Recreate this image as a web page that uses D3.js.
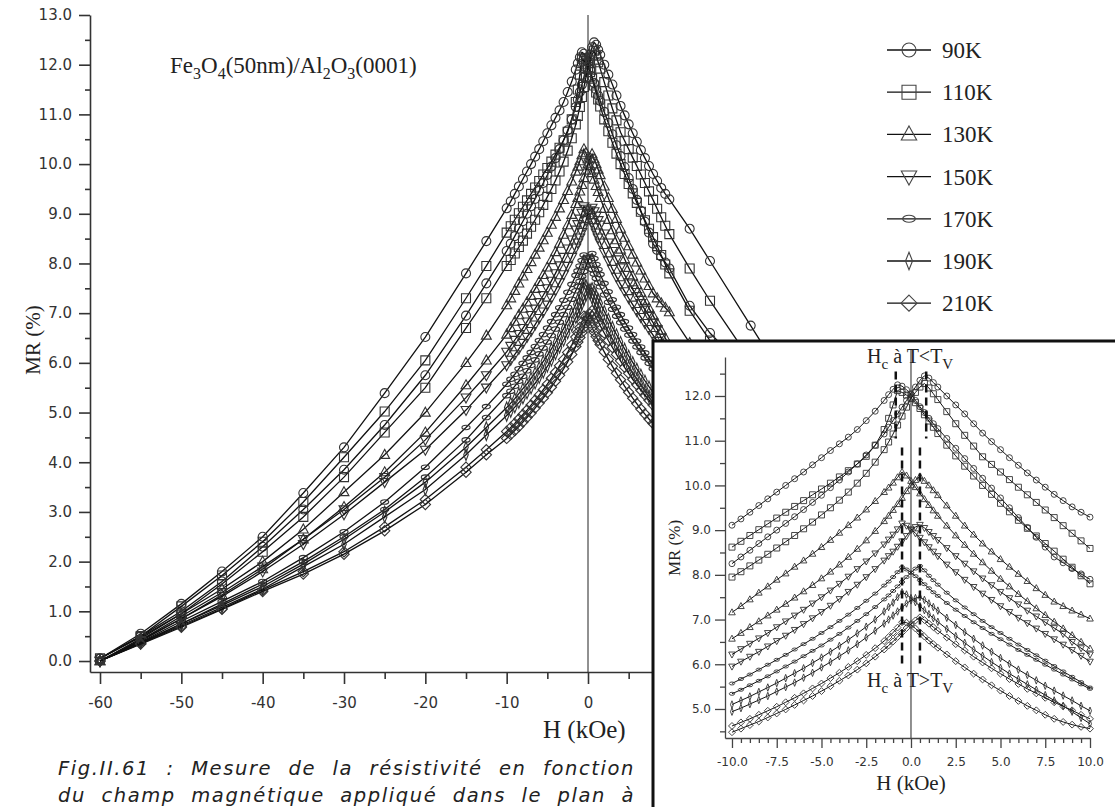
<!DOCTYPE html>
<html><head><meta charset="utf-8">
<script src="https://cdn.jsdelivr.net/npm/d3@7"></script>
<style>body{margin:0;background:#fff}svg{display:block}</style>
</head><body><svg id="c" width="1115" height="807"></svg>
<script>
// ---------- DATA ----------
const fieldKOe = [-60,-55,-50,-45,-40,-35,-30,-25,-20,-15,-12.5,
 -10,-9.5,-9,-8.5,-8,-7.5,-7,-6.5,-6,-5.5,-5,-4.5,-4,-3.5,-3,-2.5,-2,-1.5,
 -1.25,-1,-0.75,-0.5,-0.25,0,0.25,0.5,0.75,1,1.25,
 1.5,2,2.5,3,3.5,4,4.5,5,5.5,6,6.5,7,7.5,8,8.5,9,9.5,10,
 12.5,15,20,25,30,35,40,45,50,55,60];

// branch A: sweep with peak at -Hc ; branch B: peak at +Hc
const mr90A = [0.05,0.55,1.15,1.8,2.5,3.38,4.3,5.39,6.52,7.8,8.45,
 9.11,9.25,9.4,9.55,9.7,9.85,10.0,10.15,10.3,10.46,10.62,10.78,10.93,11.08,11.25,11.45,11.66,11.9,
 12.03,12.15,12.25,12.22,12.14,12.04,11.9,11.76,11.63,11.5,11.38,
 11.27,11.05,10.83,10.6,10.38,10.16,9.94,9.72,9.5,9.28,9.06,8.84,8.62,8.4,8.27,8.14,8.02,7.9,
 7.15,6.6,5.75,4.75,3.85,3.05,2.3,1.6,1.0,0.5,0.05];
const mr90B = [0.05,0.5,1.0,1.6,2.3,3.05,3.85,4.75,5.75,6.95,7.6,
 8.25,8.4,8.55,8.7,8.85,9.0,9.15,9.3,9.46,9.62,9.78,9.95,10.12,10.3,10.48,10.68,10.9,11.15,
 11.3,11.45,11.6,11.75,11.9,12.05,12.2,12.35,12.45,12.4,12.3,
 12.2,12.0,11.8,11.6,11.38,11.17,10.98,10.8,10.62,10.45,10.28,10.12,9.96,9.8,9.66,9.52,9.4,9.29,
 8.7,8.05,6.75,5.45,4.35,3.4,2.5,1.8,1.15,0.55,0.05];
const mr110A = [0.05,0.5,1.1,1.72,2.4,3.2,4.1,5.02,6.05,7.3,7.95,
 8.62,8.75,8.88,9.01,9.14,9.27,9.4,9.53,9.66,9.79,9.92,10.05,10.19,10.33,10.48,10.65,10.9,11.25,
 11.5,11.8,12.12,12.08,12.02,11.95,11.85,11.72,11.58,11.44,11.3,
 11.16,10.9,10.66,10.43,10.21,10.0,9.8,9.6,9.41,9.22,9.04,8.87,8.7,8.53,8.35,8.17,7.98,7.8,
 7.05,6.45,5.5,4.6,3.7,2.9,2.2,1.55,0.95,0.48,0.05];
const mr110B = [0.05,0.48,0.95,1.55,2.2,2.9,3.7,4.6,5.5,6.7,7.3,
 7.95,8.07,8.2,8.33,8.46,8.6,8.74,8.88,9.03,9.18,9.34,9.5,9.67,9.85,10.05,10.27,10.52,10.8,
 10.97,11.15,11.35,11.55,11.75,11.95,12.08,12.2,12.28,12.18,12.05,
 11.92,11.65,11.38,11.12,10.88,10.64,10.47,10.3,10.13,9.96,9.79,9.62,9.45,9.28,9.1,8.93,8.76,8.59,
 7.9,7.25,6.05,5.0,4.1,3.2,2.4,1.72,1.1,0.5,0.05];
const mr130A = [0.0,0.45,0.95,1.45,2.0,2.65,3.4,4.15,5.0,6.0,6.55,
 7.16,7.3,7.45,7.6,7.74,7.89,8.03,8.18,8.32,8.47,8.62,8.78,8.94,9.11,9.28,9.46,9.65,9.85,
 9.95,10.06,10.18,10.3,10.22,10.1,9.96,9.82,9.69,9.56,9.44,
 9.32,9.1,8.88,8.67,8.47,8.28,8.09,7.91,7.74,7.57,7.41,7.25,7.1,6.95,6.8,6.65,6.5,6.35,
 5.8,5.3,4.45,3.75,3.05,2.45,1.85,1.35,0.85,0.42,0.0];
const mr130B = [0.0,0.42,0.85,1.33,1.85,2.45,3.1,3.8,4.6,5.55,6.05,
 6.57,6.7,6.83,6.96,7.09,7.22,7.35,7.49,7.63,7.77,7.92,8.07,8.23,8.4,8.58,8.77,8.98,9.2,
 9.32,9.45,9.58,9.72,9.87,10.0,10.12,10.2,10.1,10.0,9.89,
 9.78,9.55,9.32,9.1,8.9,8.7,8.52,8.35,8.18,8.02,7.86,7.7,7.55,7.4,7.3,7.2,7.11,7.02,
 6.4,5.9,4.95,4.1,3.35,2.6,1.95,1.4,0.9,0.45,0.0];
const mr150A = [0.0,0.42,0.9,1.38,1.9,2.45,3.05,3.7,4.45,5.3,5.75,
 6.22,6.34,6.46,6.58,6.7,6.83,6.96,7.09,7.22,7.36,7.5,7.65,7.8,7.96,8.13,8.3,8.48,8.68,
 8.79,8.9,9.02,9.15,9.1,9.02,8.93,8.83,8.73,8.62,8.52,
 8.42,8.23,8.06,7.89,7.73,7.58,7.44,7.3,7.17,7.04,6.92,6.8,6.68,6.56,6.44,6.32,6.19,6.06,
 5.55,5.05,4.25,3.6,2.95,2.35,1.8,1.3,0.85,0.42,0.0];
const mr150B = [0.0,0.4,0.85,1.3,1.8,2.35,2.95,3.6,4.25,5.05,5.5,
 5.95,6.06,6.17,6.28,6.4,6.52,6.64,6.77,6.9,7.03,7.17,7.31,7.46,7.62,7.78,7.95,8.13,8.32,
 8.42,8.52,8.63,8.75,8.87,9.0,9.07,9.12,9.05,8.96,8.87,
 8.78,8.6,8.42,8.25,8.08,7.92,7.77,7.62,7.48,7.34,7.2,7.07,6.94,6.81,6.68,6.5,6.36,6.22,
 5.7,5.3,4.45,3.7,3.05,2.45,1.9,1.38,0.9,0.42,0.0];
const mr170A = [0.0,0.38,0.8,1.2,1.6,2.08,2.6,3.2,3.9,4.7,5.12,
 5.57,5.67,5.77,5.88,5.99,6.1,6.21,6.33,6.45,6.57,6.7,6.83,6.97,7.11,7.26,7.42,7.58,7.76,
 7.85,7.95,8.06,8.17,8.12,8.05,7.97,7.88,7.79,7.7,7.61,
 7.53,7.37,7.22,7.08,6.94,6.81,6.68,6.56,6.44,6.32,6.21,6.1,5.99,5.88,5.77,5.66,5.55,5.45,
 5.0,4.45,3.7,3.1,2.5,2.0,1.55,1.15,0.75,0.37,0.0];
const mr170B = [0.0,0.36,0.75,1.15,1.55,2.0,2.5,3.05,3.7,4.45,4.9,
 5.34,5.43,5.53,5.63,5.73,5.84,5.95,6.06,6.18,6.3,6.42,6.55,6.68,6.82,6.97,7.12,7.28,7.45,
 7.54,7.64,7.74,7.84,7.95,8.05,8.14,8.2,8.1,7.98,7.88,
 7.78,7.6,7.43,7.27,7.12,6.97,6.83,6.7,6.57,6.44,6.32,6.2,6.08,5.96,5.84,5.72,5.6,5.48,
 5.05,4.7,3.9,3.2,2.6,2.08,1.6,1.2,0.8,0.38,0.0];
const mr190A = [0.0,0.37,0.75,1.12,1.5,1.95,2.45,3.0,3.6,4.3,4.7,
 5.1,5.19,5.28,5.38,5.48,5.58,5.69,5.8,5.91,6.03,6.15,6.28,6.41,6.55,6.69,6.84,7.0,7.18,
 7.28,7.38,7.5,7.61,7.56,7.48,7.39,7.3,7.21,7.12,7.03,
 6.95,6.79,6.63,6.48,6.33,6.19,6.05,5.92,5.79,5.67,5.55,5.43,5.31,5.19,5.07,4.94,4.8,4.67,
 4.4,4.15,3.45,2.9,2.35,1.9,1.45,1.1,0.72,0.36,0.0];
const mr190B = [0.0,0.36,0.72,1.08,1.45,1.9,2.35,2.9,3.45,4.15,4.55,
 4.94,5.02,5.11,5.2,5.29,5.39,5.49,5.59,5.7,5.81,5.93,6.05,6.18,6.31,6.45,6.6,6.75,6.91,
 7.0,7.09,7.18,7.27,7.36,7.43,7.48,7.5,7.44,7.36,7.28,
 7.2,7.04,6.88,6.72,6.57,6.42,6.28,6.14,6.01,5.88,5.76,5.64,5.52,5.41,5.3,5.19,5.07,4.96,
 4.6,4.3,3.6,3.0,2.45,1.95,1.5,1.12,0.75,0.37,0.0];
const mr210A = [0.0,0.35,0.7,1.05,1.43,1.8,2.2,2.7,3.25,3.9,4.25,
 4.62,4.7,4.78,4.87,4.96,5.05,5.15,5.25,5.35,5.46,5.57,5.69,5.81,5.94,6.07,6.21,6.36,6.52,
 6.61,6.71,6.82,6.94,6.93,6.88,6.8,6.71,6.62,6.53,6.45,
 6.37,6.22,6.07,5.93,5.79,5.66,5.53,5.41,5.29,5.18,5.07,4.97,4.87,4.78,4.71,4.65,4.6,4.56,
 4.2,3.8,3.15,2.62,2.15,1.75,1.4,1.04,0.68,0.34,0.0];
const mr210B = [0.0,0.34,0.68,1.04,1.4,1.75,2.15,2.62,3.15,3.8,4.15,
 4.48,4.56,4.64,4.72,4.81,4.9,4.99,5.09,5.19,5.29,5.4,5.51,5.63,5.75,5.88,6.02,6.17,6.33,
 6.42,6.51,6.61,6.71,6.81,6.9,6.98,7.05,6.99,6.91,6.83,
 6.75,6.6,6.45,6.31,6.17,6.04,5.91,5.79,5.67,5.56,5.45,5.35,5.25,5.15,5.06,4.97,4.87,4.78,
 4.35,3.9,3.25,2.7,2.2,1.8,1.43,1.05,0.7,0.35,0.0];

const temperatures = ['90K','110K','130K','150K','170K','190K','210K'];
const markerKinds = ['circle','square','triUp','triDown','ellipse','thinDiamond','diamond'];
const branchesA = [mr90A, mr110A, mr130A, mr150A, mr170A, mr190A, mr210A];
const branchesB = [mr90B, mr110B, mr130B, mr150B, mr170B, mr190B, mr210B];

const mainYTicks = [0,1,2,3,4,5,6,7,8,9,10,11,12,13];
const mainYMinor = [0.5,1.5,2.5,3.5,4.5,5.5,6.5,7.5,8.5,9.5,10.5,11.5,12.5];
const mainXTicks = [-60,-50,-40,-30,-20,-10,0,10,20,30,40,50,60];
const mainXMinor = [-55,-45,-35,-25,-15,-5,5,15,25,35,45,55];
const insetYTicks = [5,6,7,8,9,10,11,12];
const insetYMinor = [4.5,5.5,6.5,7.5,8.5,9.5,10.5,11.5,12.5];
const insetXTicks = [-10,-7.5,-5,-2.5,0,2.5,5,7.5,10];
const insetXMinor = [-9.5,-9,-8.5,-8,-7,-6.5,-6,-5.5,-4.5,-4,-3.5,-3,-2,-1.5,-1,-0.5,0.5,1,1.5,2,3,3.5,4,4.5,5.5,6,6.5,7,8,8.5,9,9.5];
const coerciveLow = [-0.85, 0.85];   // Hc at T<Tv
const coerciveHigh = [-0.5, 0.5];    // Hc at T>Tv
const captionLines = ['Fig.II.61 : Mesure de la résistivité en fonction',
                      'du champ magnétique appliqué dans le plan à'];

const series = temperatures.map((t,i)=>({label:t, kind:markerKinds[i], branches:[branchesA[i], branchesB[i]]}));

// ---------- HELPERS ----------
function markerPath(kind, s){
  switch(kind){
    case 'circle': return `M${-s},0a${s},${s} 0 1,0 ${2*s},0a${s},${s} 0 1,0 ${-2*s},0Z`;
    case 'square': return `M${-s},${-s}h${2*s}v${2*s}h${-2*s}Z`;
    case 'triUp': return `M0,${-s*1.2}L${s*1.1},${s*0.8}L${-s*1.1},${s*0.8}Z`;
    case 'triDown': return `M0,${s*1.2}L${s*1.1},${-s*0.8}L${-s*1.1},${-s*0.8}Z`;
    case 'ellipse': { const rx=s*0.9, ry=s*0.5; return `M${-rx},0a${rx},${ry} 0 1,0 ${2*rx},0a${rx},${ry} 0 1,0 ${-2*rx},0Z`; }
    case 'thinDiamond': return `M0,${-s*1.25}L${s*0.5},0L0,${s*1.25}L${-s*0.5},0Z`;
    case 'diamond': return `M0,${-s*1.15}L${s*1.15},0L0,${s*1.15}L${-s*1.15},0Z`;
  }
}
const SERIF = "'Liberation Serif','Times New Roman',serif";
const SANS = "'DejaVu Sans',Verdana,sans-serif";

const svg = d3.select('#c');
svg.append('rect').attr('width',1115).attr('height',807).attr('fill','#fff');

function drawCurves(g, xs, ys, filter, ms, lw, mw){
  series.forEach(s=>{
    s.branches.forEach(vals=>{
      const pts = fieldKOe.map((h,j)=>[h, vals[j]]).filter(p=>filter(p[0]));
      g.append('path')
        .attr('d', d3.line().x(p=>xs(p[0])).y(p=>ys(p[1]))(pts))
        .attr('fill','none').attr('stroke','#111').attr('stroke-width',lw);
      g.selectAll(null).data(pts).enter().append('path')
        .attr('d', markerPath(s.kind, ms))
        .attr('transform', p=>`translate(${xs(p[0])},${ys(p[1])})`)
        .attr('fill','none').attr('stroke','#333').attr('stroke-width',mw);
    });
  });
}

// ---------- MAIN CHART ----------
const x = d3.scaleLinear().domain([-61.23, 60]).range([90, 1076]);
const y = d3.scaleLinear().domain([-0.221, 13]).range([672, 15]);
const main = svg.append('g');

main.append('line').attr('x1',x(0)).attr('x2',x(0)).attr('y1',15).attr('y2',672)
  .attr('stroke','#222').attr('stroke-width',1);

drawCurves(main, x, y, ()=>true, 4.5, 1.3, 1.1);

function styleAxis(g, fs, col){
  g.selectAll('path,line').attr('stroke', col).attr('stroke-width', 1.6);
  g.selectAll('text').attr('font-family', SANS).attr('font-size', fs).attr('fill','#333');
}
const yAxisG = main.append('g').attr('transform','translate(90,0)')
  .call(d3.axisLeft(y).tickValues(mainYTicks).tickFormat(d=>d.toFixed(1)).tickSize(11).tickSizeOuter(0).tickPadding(7));
styleAxis(yAxisG, 15, '#333');
const yMinorG = main.append('g').attr('transform','translate(90,0)')
  .call(d3.axisLeft(y).tickValues(mainYMinor).tickFormat('').tickSize(5).tickSizeOuter(0));
yMinorG.select('.domain').remove(); styleAxis(yMinorG, 15, '#333');

const xAxisG = main.append('g').attr('transform','translate(0,672)')
  .call(d3.axisBottom(x).tickValues(mainXTicks).tickFormat(d=>String(d)).tickSize(12).tickSizeOuter(0).tickPadding(13));
styleAxis(xAxisG, 15, '#333');
const xMinorG = main.append('g').attr('transform','translate(0,672)')
  .call(d3.axisBottom(x).tickValues(mainXMinor).tickFormat('').tickSize(7).tickSizeOuter(0));
xMinorG.select('.domain').remove(); styleAxis(xMinorG, 15, '#333');

main.append('text').attr('transform','translate(40,340) rotate(-90)')
  .attr('text-anchor','middle').attr('font-family',SERIF).attr('font-size',21).attr('fill','#222')
  .text('MR (%)');
main.append('text').attr('x',543).attr('y',738)
  .attr('font-family',SERIF).attr('font-size',25).attr('fill','#222').text('H (kOe)');

// sample label with subscripts
const lab = main.append('text').attr('x',170).attr('y',73)
  .attr('font-family',SERIF).attr('font-size',23).attr('fill','#222');
[['Fe',0],['3',1],['O',0],['4',1],['(50nm)/Al',0],['2',1],['O',0],['3',1],['(0001)',0]].forEach(([t,sub],i,arr)=>{
  const prevSub = i>0 ? arr[i-1][1] : 0;
  const dy = (sub - prevSub)*6;
  lab.append('tspan').attr('dy',dy).attr('font-size', sub?16:23).text(t);
});

// legend
const leg = svg.append('g');
series.forEach((s,i)=>{
  const cy = 50 + i*42.2;
  leg.append('line').attr('x1',887).attr('x2',931).attr('y1',cy).attr('y2',cy)
    .attr('stroke','#111').attr('stroke-width',1.3);
  leg.append('path').attr('d', markerPath(s.kind, 7)).attr('transform',`translate(909,${cy})`)
    .attr('fill','none').attr('stroke','#444').attr('stroke-width',1.1);
  leg.append('text').attr('x',942).attr('y',cy+8).attr('font-family',SERIF)
    .attr('font-size',23).attr('fill','#222').text(s.label);
});

// ---------- INSET ----------
const inset = svg.append('g');
inset.append('rect').attr('x',653).attr('y',341).attr('width',480).attr('height',480)
  .attr('fill','#fff').attr('stroke','#111').attr('stroke-width',3);

const xi = d3.scaleLinear().domain([-10.39, 10]).range([725, 1090]);
const yi = d3.scaleLinear().domain([4.351, 12.872]).range([738, 357]);

svg.append('defs').append('clipPath').attr('id','insetClip')
  .append('rect').attr('x',726).attr('y',348).attr('width',375).attr('height',389);

inset.append('line').attr('x1',xi(0)).attr('x2',xi(0)).attr('y1',350).attr('y2',738)
  .attr('stroke','#222').attr('stroke-width',1);

const ig = inset.append('g').attr('clip-path','url(#insetClip)');
drawCurves(ig, xi, yi, h=>h>=-10 && h<=10, 3, 1, 0.9);

// dashed coercive-field markers
coerciveLow.forEach(h=>{
  inset.append('line').attr('x1',xi(h)).attr('x2',xi(h)).attr('y1',yi(12.55)).attr('y2',yi(11.05))
    .attr('stroke','#111').attr('stroke-width',2.5).attr('stroke-dasharray','8,5');
});
coerciveHigh.forEach(h=>{
  inset.append('line').attr('x1',xi(h)).attr('x2',xi(h)).attr('y1',yi(10.85)).attr('y2',yi(6.0))
    .attr('stroke','#111').attr('stroke-width',2.5).attr('stroke-dasharray','8,5');
});

function hcLabel(yy, rel){
  const t = inset.append('text').attr('x',867).attr('y',yy).attr('font-family',SERIF)
    .attr('font-size',20).attr('fill','#222');
  t.append('tspan').text('H');
  t.append('tspan').attr('dy',6).attr('font-size',15).text('c');
  t.append('tspan').attr('dy',-6).text(' à ');
  t.append('tspan').text('T' + rel + 'T');
  t.append('tspan').attr('dy',6).attr('font-size',15).text('V');
}
hcLabel(363, '<');
hcLabel(687, '>');

const yiAxis = inset.append('g').attr('transform','translate(725,0)')
  .call(d3.axisLeft(yi).tickValues(insetYTicks).tickFormat(d=>d.toFixed(1)).tickSize(10).tickSizeOuter(0).tickPadding(4));
yiAxis.selectAll('path,line').attr('stroke','#444').attr('stroke-width',1.3);
yiAxis.selectAll('text').attr('font-family',SANS).attr('font-size',12).attr('fill','#333');
const yiMinor = inset.append('g').attr('transform','translate(725,0)')
  .call(d3.axisLeft(yi).tickValues(insetYMinor).tickFormat('').tickSize(5).tickSizeOuter(0));
yiMinor.select('.domain').remove(); yiMinor.selectAll('line').attr('stroke','#444').attr('stroke-width',1.3);

const xiAxis = inset.append('g').attr('transform','translate(0,738)')
  .call(d3.axisBottom(xi).tickValues(insetXTicks).tickFormat(d=>d.toFixed(1)).tickSize(10).tickSizeOuter(0).tickPadding(9));
xiAxis.selectAll('path,line').attr('stroke','#444').attr('stroke-width',1.3);
xiAxis.selectAll('text').attr('font-family',SANS).attr('font-size',12).attr('fill','#333');
const xiMinor = inset.append('g').attr('transform','translate(0,738)')
  .call(d3.axisBottom(xi).tickValues(insetXMinor).tickFormat('').tickSize(5).tickSizeOuter(0));
xiMinor.select('.domain').remove(); xiMinor.selectAll('line').attr('stroke','#444').attr('stroke-width',1.3);

inset.append('text').attr('transform','translate(680,548) rotate(-90)').attr('text-anchor','middle')
  .attr('font-family',SERIF).attr('font-size',17).attr('fill','#222').text('MR (%)');
inset.append('text').attr('x',911).attr('y',790).attr('text-anchor','middle')
  .attr('font-family',SERIF).attr('font-size',21).attr('fill','#222').text('H (kOe)');

// ---------- CAPTION (justified: letter spacing + word spacing) ----------
const capY = [775, 802];
captionLines.forEach((line,i)=>{
  const t = svg.append('text').attr('x',58).attr('y',capY[i]).attr('font-family',SANS)
    .attr('font-style','italic').attr('font-size',19.5).attr('letter-spacing',1.6)
    .attr('fill','#222').text(line);
  const natural = t.node().getComputedTextLength();
  const gaps = line.split(' ').length - 1;
  t.attr('word-spacing', Math.max(0,(577 - natural)/gaps));
});
</script></body></html>
